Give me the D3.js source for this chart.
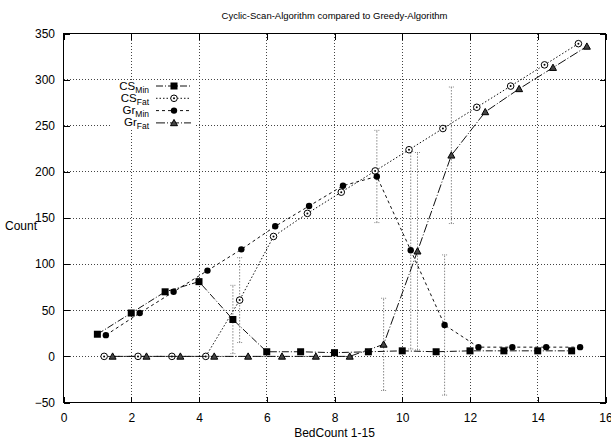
<!DOCTYPE html>
<html>
<head>
<meta charset="utf-8">
<script src="https://cdn.jsdelivr.net/npm/d3@7"></script>
<style>
  body { margin: 0; background: #fff; }
  svg text { font-family: "Liberation Sans", Arial, Helvetica, sans-serif; fill: #000; }
</style>
</head>
<body>
<div id="chart"></div>
<script>
// values
var bedCount = [1, 2, 3, 4, 5, 6, 7, 8, 9, 10, 11, 12, 13, 14, 15];
var csMin    = [24, 47, 70, 81, 40, 5, 5, 4, 5, 6, 5, 6, 6, 6, 6];
var csFat    = [0, 0, 0, 0, 61, 130, 155, 178, 201, 224, 247, 270, 293, 316, 339];
var grMin    = [23, 47, 70, 93, 116, 141, 163, 185, 195, 115, 34, 10, 10, 10, 10];
var grFat    = [0, 0, 0, 0, 0, 0, 0, 0, 13, 114, 218, 265, 290, 313, 336];
// error bar half widths (0 = none drawn)
var csMinErr = [0, 0, 0, 0, 37, 0, 0, 0, 0, 0, 0, 0, 0, 0, 0];
var csFatErr = [0, 0, 0, 0, 46, 0, 0, 0, 0, 0, 0, 0, 0, 0, 0];
var grMinErr = [0, 0, 0, 0, 0, 0, 0, 0, 50, 107, 76, 0, 0, 0, 0];
var grFatErr = [0, 0, 0, 0, 0, 0, 0, 0, 50, 107, 74, 0, 0, 0, 0];
var xTicks = [0, 2, 4, 6, 8, 10, 12, 14, 16];
var yTicks = [-50, 0, 50, 100, 150, 200, 250, 300, 350];

var W = 611, H = 441;
var margin = {left: 63.5, right: 5.5, top: 33.5, bottom: 38.5};
var w = W - margin.left - margin.right;
var h = H - margin.top - margin.bottom;

var series = [
  {name: "CS", sub: "Min", y: csMin, err: csMinErr, off: 0,    dash: "7,2,1,2", marker: "square"},
  {name: "CS", sub: "Fat", y: csFat, err: csFatErr, off: 0.2,  dash: "1.5,2",   marker: "odot"},
  {name: "Gr", sub: "Min", y: grMin, err: grMinErr, off: 0.25, dash: "3,3",     marker: "dot"},
  {name: "Gr", sub: "Fat", y: grFat, err: grFatErr, off: 0.45, dash: "9,2,1,2", marker: "tri"}
];

var svg = d3.select("#chart").append("svg")
    .attr("width", W)
    .attr("height", H);

var x = d3.scaleLinear().domain([0, 16]).range([0, w]);
var y = d3.scaleLinear().domain([-50, 350]).range([h, 0]);

var g = svg.append("g").attr("transform", "translate(" + margin.left + "," + margin.top + ")");

// grid
var grid = g.append("g").attr("class", "grid");
grid.selectAll(".gx").data(xTicks.slice(1, -1)).enter().append("line")
    .attr("x1", d => x(d)).attr("x2", d => x(d))
    .attr("y1", 0).attr("y2", h);
grid.selectAll(".gy").data(yTicks.slice(1, -1)).enter().append("line")
    .attr("x1", 0).attr("x2", w)
    .attr("y1", d => y(d)).attr("y2", d => y(d));
grid.selectAll("line")
    .attr("stroke", "#444")
    .attr("stroke-width", 1)
    .attr("stroke-dasharray", "1,2")
    .attr("shape-rendering", "crispEdges");

// axes (ticks mirrored on all sides, pointing inward)
var tk = 6;
var axB = g.append("g").attr("transform", "translate(0," + h + ")")
    .call(d3.axisBottom(x).tickValues(xTicks).tickSizeInner(-tk).tickSizeOuter(0).tickPadding(11));
var axL = g.append("g")
    .call(d3.axisLeft(y).tickValues(yTicks).tickSizeInner(-tk).tickSizeOuter(0).tickPadding(8.5));
var axT = g.append("g")
    .call(d3.axisTop(x).tickValues(xTicks).tickSizeInner(-tk).tickSizeOuter(0).tickFormat(""));
var axR = g.append("g").attr("transform", "translate(" + w + ",0)")
    .call(d3.axisRight(y).tickValues(yTicks).tickSizeInner(-tk).tickSizeOuter(0).tickFormat(""));
g.selectAll(".domain").remove();
g.selectAll(".tick line").attr("stroke", "#000").attr("shape-rendering", "crispEdges");
axB.selectAll("text").attr("font-size", 12);
axL.selectAll("text").attr("font-size", 12);

g.append("rect")
    .attr("width", w).attr("height", h)
    .attr("fill", "none").attr("stroke", "#000").attr("stroke-width", 1.2)
    .attr("shape-rendering", "crispEdges");

// legend box (opaque, hides grid)
var lg = svg.append("g");
lg.append("rect")
    .attr("x", 112).attr("y", 81).attr("width", 84).attr("height", 48)
    .attr("fill", "#fff");

var plot = g.append("g");

// error bars
series.forEach(function(s) {
  var pts = bedCount.map((b, i) => ({x: b + s.off, y: s.y[i], e: s.err[i]})).filter(p => p.e > 0);
  var eb = plot.append("g").attr("stroke", "#888").attr("stroke-width", 1).attr("fill", "none");
  eb.selectAll(".v").data(pts).enter().append("line")
      .attr("x1", p => x(p.x)).attr("x2", p => x(p.x))
      .attr("y1", p => y(p.y - p.e)).attr("y2", p => y(p.y + p.e))
      .attr("stroke-dasharray", "1.5,1.5");
  [-1, 1].forEach(function(sg) {
    eb.selectAll(".c" + sg).data(pts).enter().append("line")
        .attr("x1", p => x(p.x) - 2.5).attr("x2", p => x(p.x) + 2.5)
        .attr("y1", p => y(p.y + sg * p.e)).attr("y2", p => y(p.y + sg * p.e))
        .attr("stroke-dasharray", "1,1");
  });
});

function drawMarker(sel, type) {
  if (type === "square") {
    sel.append("rect").attr("x", -3.5).attr("y", -3.5).attr("width", 7).attr("height", 7).attr("fill", "#000");
  } else if (type === "odot") {
    sel.append("circle").attr("r", 3.3).attr("fill", "#fff").attr("stroke", "#000").attr("stroke-width", 1);
    sel.append("circle").attr("r", 1).attr("fill", "#000");
  } else if (type === "dot") {
    sel.append("circle").attr("r", 3.2).attr("fill", "#000");
  } else {
    sel.append("path").attr("d", "M0,-3.5L3.5,2.8L-3.5,2.8Z").attr("fill", "#444").attr("stroke", "#000").attr("stroke-width", 1);
  }
}

var line = d3.line().x(d => x(d.x)).y(d => y(d.y));

series.forEach(function(s) {
  var pts = bedCount.map((b, i) => ({x: b + s.off, y: s.y[i]}));
  plot.append("path")
      .datum(pts)
      .attr("d", line)
      .attr("fill", "none")
      .attr("stroke", "#111")
      .attr("stroke-width", 1)
      .attr("stroke-dasharray", s.dash);
  plot.selectAll(null).data(pts).enter().append("g")
      .attr("transform", d => "translate(" + x(d.x) + "," + y(d.y) + ")")
      .each(function() { drawMarker(d3.select(this), s.marker); });
});

// legend entries
series.forEach(function(s, i) {
  var ly = 86 + i * 12.3;
  var t = lg.append("text").attr("x", 149).attr("y", ly + 3.5)
      .attr("text-anchor", "end").attr("font-size", 11.5);
  t.append("tspan").text(s.name);
  t.append("tspan").attr("font-size", 8.5).attr("dy", 3).text(s.sub);
  lg.append("line")
      .attr("x1", 156).attr("x2", 191).attr("y1", ly).attr("y2", ly)
      .attr("stroke", "#111").attr("stroke-dasharray", s.dash);
  drawMarker(lg.append("g").attr("transform", "translate(174," + ly + ")"), s.marker);
});

// titles
svg.append("text")
    .attr("x", margin.left + w / 2).attr("y", 19)
    .attr("text-anchor", "middle").attr("font-size", 9.5)
    .text("Cyclic-Scan-Algorithm compared to Greedy-Algorithm");
svg.append("text")
    .attr("x", margin.left + w / 2).attr("y", 437)
    .attr("text-anchor", "middle").attr("font-size", 12)
    .text("BedCount 1-15");
svg.append("text")
    .attr("x", 21).attr("y", 230)
    .attr("text-anchor", "middle").attr("font-size", 12)
    .text("Count");
</script>
</body>
</html>
